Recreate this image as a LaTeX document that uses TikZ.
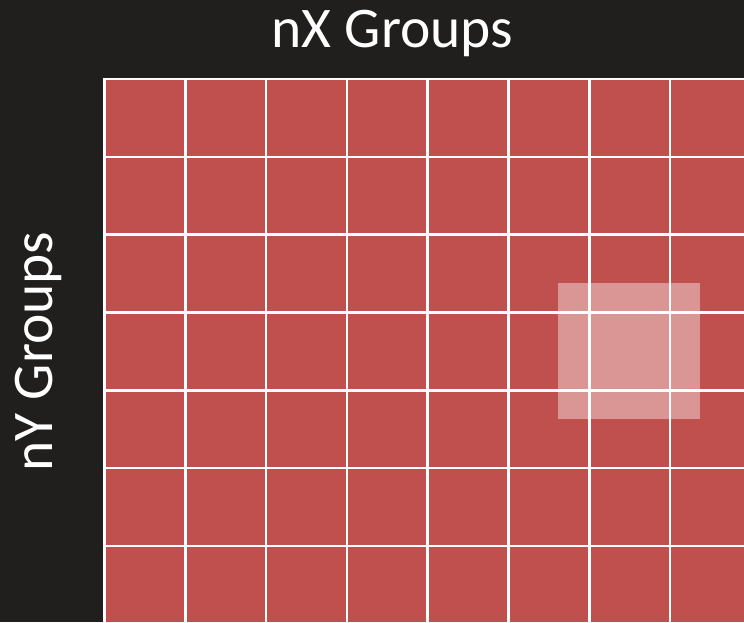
\documentclass[tikz,border=0pt]{standalone}
\usepackage{fontspec}
\setmainfont{Carlito}
\definecolor{bgdark}{HTML}{201F1E}
\definecolor{cellred}{HTML}{C0504D}
\tikzset{
  gridline/.style={white, line width=2.6pt},
  label/.style={text=white, font=\fontsize{57.5}{62}\selectfont, inner sep=0pt},
  highlight/.style={fill=white, fill opacity=0.4, draw=none}
}
\begin{document}
\begin{tikzpicture}[x=1pt,y=-1pt]
\useasboundingbox (0,0) rectangle (744,622);
\fill[bgdark] (0,0) rectangle (744,622);
\fill[cellred] (104.5,79) rectangle (744,622);
\foreach \i in {0,...,7} {
  \draw[gridline] ({104.5+\i*80.8},79) -- ({104.5+\i*80.8},622);
}
\foreach \j in {0,...,6} {
  \draw[gridline] (103.2,{79+\j*77.8}) -- (744,{79+\j*77.8});
}
\fill[highlight] (558,283) rectangle (700,418.5);
\node[label, anchor=base] (title) at (392.5,47) {nX Groups};
\node[label, anchor=base, rotate=90] (side) at (52,351.5) {nY Groups};
\end{tikzpicture}
\end{document}
